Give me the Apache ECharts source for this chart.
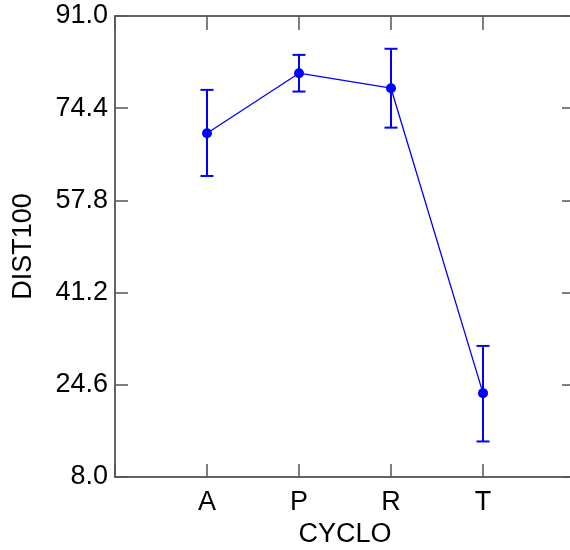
<!DOCTYPE html>
<html>
<head>
<meta charset="utf-8">
<script src="https://cdn.jsdelivr.net/npm/echarts@6/dist/echarts.min.js"></script>
<style>html,body{margin:0;padding:0;background:#fff}#c{width:570px;height:550px}</style>
</head>
<body>
<div id="c"></div>
<script>
var categories = ['A', 'P', 'R', 'T'];
var means = [69.9, 80.7, 78.0, 23.1];
var upper = [77.7, 84.0, 85.1, 31.6];
var lower = [62.2, 77.4, 70.9, 14.4];
var yTicks = [8.0, 24.6, 41.2, 57.8, 74.4, 91.0];

var font = 'Liberation Sans, Arial, sans-serif';
var blue = '#0000ff';
var lineData = means.map(function (v, i) { return [i + 1, v]; });
var errData = means.map(function (v, i) { return [i + 1, lower[i], upper[i]]; });

function catLabel(v) {
  var i = Math.round(v) - 1;
  return (i >= 0 && i < categories.length) ? categories[i] : '';
}

var chart = echarts.init(document.getElementById('c'), null, {renderer: 'canvas'});
var axLine = {show: true, onZero: false, lineStyle: {color: '#333', width: 1.5}};
var tickStyle = {color: '#555', width: 1.5};
chart.setOption({
  animation: false,
  grid: {left: 115, top: 16, width: 460, height: 461, containLabel: false, outerBoundsMode: 'none'},
  xAxis: [{
    type: 'value', min: 0, max: categories.length + 1, interval: 1,
    position: 'bottom',
    name: 'CYCLO', nameLocation: 'middle', nameGap: 43,
    nameTextStyle: {fontFamily: font, fontSize: 27, color: '#000'},
    axisLine: axLine,
    axisTick: {show: true, inside: true, length: 13, lineStyle: tickStyle},
    axisLabel: {formatter: catLabel, fontFamily: font, fontSize: 27, color: '#000', margin: 12},
    splitLine: {show: false}
  }, {
    type: 'value', min: 0, max: categories.length + 1, interval: 1,
    position: 'top',
    axisLine: axLine,
    axisTick: {show: true, inside: true, length: 14, lineStyle: tickStyle},
    axisLabel: {show: false},
    splitLine: {show: false}
  }],
  yAxis: [{
    type: 'value', min: yTicks[0], max: yTicks[yTicks.length - 1],
    interval: yTicks[1] - yTicks[0],
    position: 'left',
    name: 'DIST100', nameLocation: 'middle', nameGap: 78, nameRotate: 90,
    nameTextStyle: {fontFamily: font, fontSize: 27, color: '#000'},
    axisLine: axLine,
    axisTick: {show: true, inside: true, length: 13, lineStyle: tickStyle},
    axisLabel: {formatter: function (v) { return v.toFixed(1); }, fontFamily: font, fontSize: 27, color: '#000', margin: 7},
    splitLine: {show: false}
  }, {
    type: 'value', min: yTicks[0], max: yTicks[yTicks.length - 1],
    interval: yTicks[1] - yTicks[0],
    position: 'right',
    axisLine: axLine,
    axisTick: {show: true, inside: true, length: 13, lineStyle: tickStyle},
    axisLabel: {show: false},
    splitLine: {show: false}
  }],
  series: [{
    type: 'custom',
    xAxisIndex: 0, yAxisIndex: 0,
    data: errData,
    z: 3,
    renderItem: function (params, api) {
      var x = api.value(0);
      var lo = api.coord([x, api.value(1)]);
      var hi = api.coord([x, api.value(2)]);
      var hw = 6.5;
      var st = {stroke: blue, lineWidth: 2};
      return {
        type: 'group',
        children: [
          {type: 'line', shape: {x1: lo[0], y1: lo[1], x2: hi[0], y2: hi[1]}, style: st},
          {type: 'line', shape: {x1: lo[0] - hw, y1: lo[1], x2: lo[0] + hw, y2: lo[1]}, style: st},
          {type: 'line', shape: {x1: hi[0] - hw, y1: hi[1], x2: hi[0] + hw, y2: hi[1]}, style: st}
        ]
      };
    }
  }, {
    type: 'line',
    xAxisIndex: 0, yAxisIndex: 0,
    data: lineData,
    z: 4,
    symbol: 'circle', symbolSize: 10, showSymbol: true,
    lineStyle: {color: blue, width: 1.3},
    itemStyle: {color: blue}
  }]
});
</script>
</body>
</html>
